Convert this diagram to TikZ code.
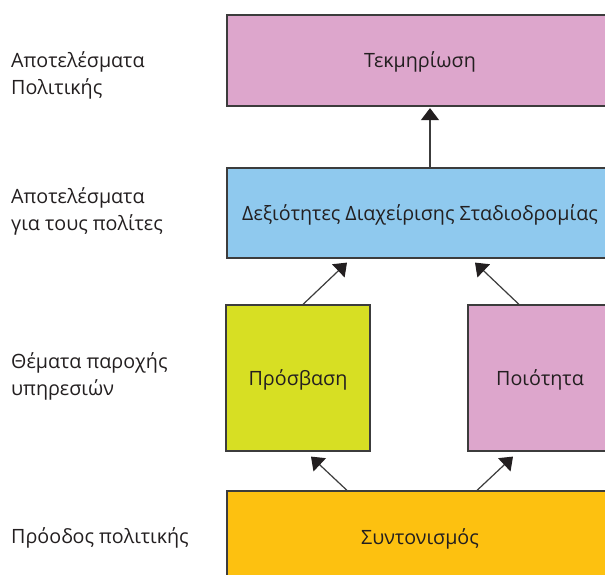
\documentclass[tikz,border=0pt]{standalone}
\usepackage{fontspec}
\setmainfont{Open Sans}
\usetikzlibrary{arrows.meta}
\definecolor{boxpink}{HTML}{DDA6CC}
\definecolor{boxblue}{HTML}{8FC9EE}
\definecolor{boxgreen}{HTML}{D7DF23}
\definecolor{boxorange}{HTML}{FDC110}
\definecolor{edgegray}{HTML}{3C3C3C}
\definecolor{txt}{HTML}{231F20}
\begin{document}
\begin{tikzpicture}[x=1pt,y=-1pt,
  font=\fontsize{19.7}{27}\selectfont, text=txt,
  box/.style={draw=edgegray, line width=1.2pt, rectangle, inner sep=0pt,
    text height=14pt, text depth=0pt, align=center},
  lbl/.style={anchor=base west, inner sep=0pt, align=left},
  arr/.style={draw=edgegray, line width=1.2pt,
    -{Triangle[width=18pt,length=12pt,color=txt]}}]
\useasboundingbox (0,0) rectangle (605,575);
\clip (0,0) rectangle (605,575);
\fill[white] (0,0) rectangle (605,575);
% boxes
\node[box, fill=boxpink, minimum width=386pt, minimum height=91pt] (top) at (420,60.5) {Τεκμηρίωση};
\node[box, fill=boxblue, minimum width=386pt, minimum height=90pt] (blue) at (420,213) {Δεξιότητες Διαχείρισης Σταδιοδρομίας};
\node[box, fill=boxgreen, minimum width=144pt, minimum height=146pt] (green) at (298,378) {Πρόσβαση};
\node[box, fill=boxpink, minimum width=144pt, minimum height=146pt] (pink) at (540,378) {Ποιότητα};
\node[box, fill=boxorange, minimum width=386pt, minimum height=92pt] (orange) at (420,537) {Συντονισμός};
% left labels (base = baseline of last line)
\node[lbl] (l1) at (11,95) {Αποτελέσματα\\Πολιτικής};
\node[lbl] (l2) at (11,230) {Αποτελέσματα\\για τους πολίτες};
\node[lbl] (l3) at (11,395) {Θέματα παροχής\\υπηρεσιών};
\node[lbl] (l4) at (11,543) {Πρόοδος πολιτικής};
% arrows
\draw[arr] ([xshift=10pt]blue.north) -- ([xshift=10pt,yshift=-1.5pt]top.south);
\draw[arr] ([xshift=5pt]green.north) -- ([xshift=-73pt,yshift=-4pt]blue.south);
\draw[arr] ([xshift=-21pt]pink.north) -- ([xshift=55pt,yshift=-4pt]blue.south);
\draw[arr] ([xshift=-73pt]orange.north) -- ([xshift=13pt,yshift=-5pt]green.south);
\draw[arr] ([xshift=57pt]orange.north) -- ([xshift=-27pt,yshift=-5pt]pink.south);
\end{tikzpicture}
\end{document}
